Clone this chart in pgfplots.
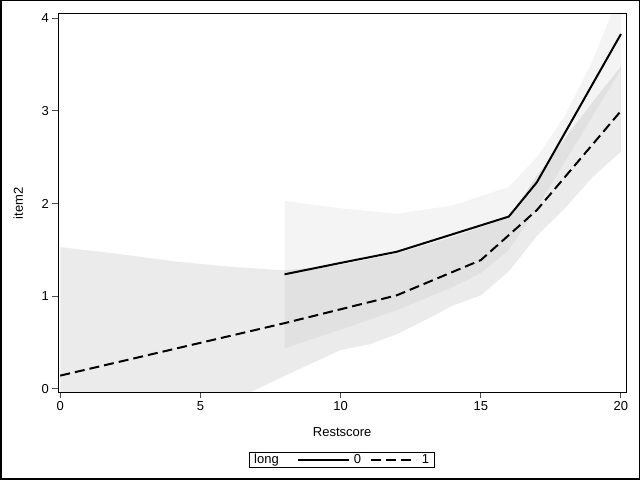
\documentclass[border=0pt]{standalone}
\usepackage{pgfplots}
\pgfplotsset{compat=1.18}
\usepackage{fontspec}
\setmainfont{Liberation Sans}
\newcommand{\lbl}{\fontsize{13bp}{15bp}\selectfont}
\pgfplotsset{
  legsolid/.style={legend image code/.code={\draw[##1] (0bp,0bp) -- (51bp,0bp);}},
  legdash/.style={legend image code/.code={\draw[##1] (0bp,0bp) -- (45bp,0bp);}},
}
\begin{document}
\begin{tikzpicture}[x=1bp,y=1bp]
\useasboundingbox (0,0) rectangle (640,480);
\draw[line width=1.5bp] (0.75,0.75) rectangle (639.25,479.25);
\begin{axis}[
  at={(58.3bp,87.7bp)}, anchor=south west,
  scale only axis, width=567.7bp, height=378.3bp,
  xmin=-0.07, xmax=20.18, ymin=-0.036, ymax=4.046,
  xtick={0,5,10,15,20}, ytick={0,1,2,3,4},
  tick align=outside, tick pos=left,
  major tick length=6bp,
  axis line style={line width=1bp},
  every tick/.style={black!70, line width=1bp},
  ticklabel style={font=\lbl},
  /pgf/number format/assume math mode=true,
  xlabel={Restscore}, ylabel={item2},
  label style={font=\lbl},
  xlabel style={at={(axis description cs:0.5,-0.104)}, anchor=center},
  ylabel style={at={(axis description cs:-0.0705,0.5)}, anchor=center},
  legend columns=-1,
  legend style={at={(axis description cs:0.4992,-0.179)}, anchor=center,
    draw=black, line width=1bp, font=\lbl, inner xsep=5bp, inner ysep=2bp,
    nodes={inner sep=0pt, text height=9bp, text depth=2.5bp},
    /tikz/column 1/.style={column sep=0bp},
    /tikz/column 2/.style={column sep=18bp},
    /tikz/column 3/.style={column sep=4bp},
    /tikz/column 4/.style={column sep=9bp},
    /tikz/column 5/.style={column sep=5bp},
  },
]
% band for long = 1
\addplot[fill=black, fill opacity=0.08, draw=none, forget plot] coordinates {
 (0,1.53) (2,1.46) (4,1.38) (6,1.32) (8,1.28) (10,1.34) (12,1.46) (14,1.64)
 (16,1.85) (17,2.3) (18,2.7) (19,3.1) (20,3.48)
 (20,2.56) (19,2.29) (18,1.95) (17,1.65) (16,1.27) (15,1.01) (14,0.9) (13,0.74)
 (12,0.59) (11,0.48) (10,0.42) (9,0.28) (8,0.14) (0,-1.0)
};
% band for long = 0
\addplot[fill=black, fill opacity=0.045, draw=none, forget plot] coordinates {
 (8,2.03) (10,1.95) (12,1.89) (14,1.98) (16,2.18) (17,2.5) (18,2.95) (19,3.55) (20,4.3)
 (20,3.45) (19,2.95) (18,2.45) (17,1.95) (16,1.5) (15,1.25) (14,1.1) (12,0.85) (10,0.64) (8,0.44)
};
\addlegendimage{empty legend}
\addlegendentry{long}
\addplot[black, line width=2bp, legsolid]
  coordinates {(8,1.237) (10,1.36) (12,1.48) (16,1.86) (17,2.23) (20,3.83)};
\addlegendentry{0}
\addplot[black, line width=2bp, dash pattern=on 10bp off 5bp, legdash]
  coordinates {(0,0.144) (8,0.71) (12,1.01) (15,1.39) (16,1.66) (17,1.93) (20,3.0)};
\addlegendentry{1}
\end{axis}
\end{tikzpicture}
\end{document}
